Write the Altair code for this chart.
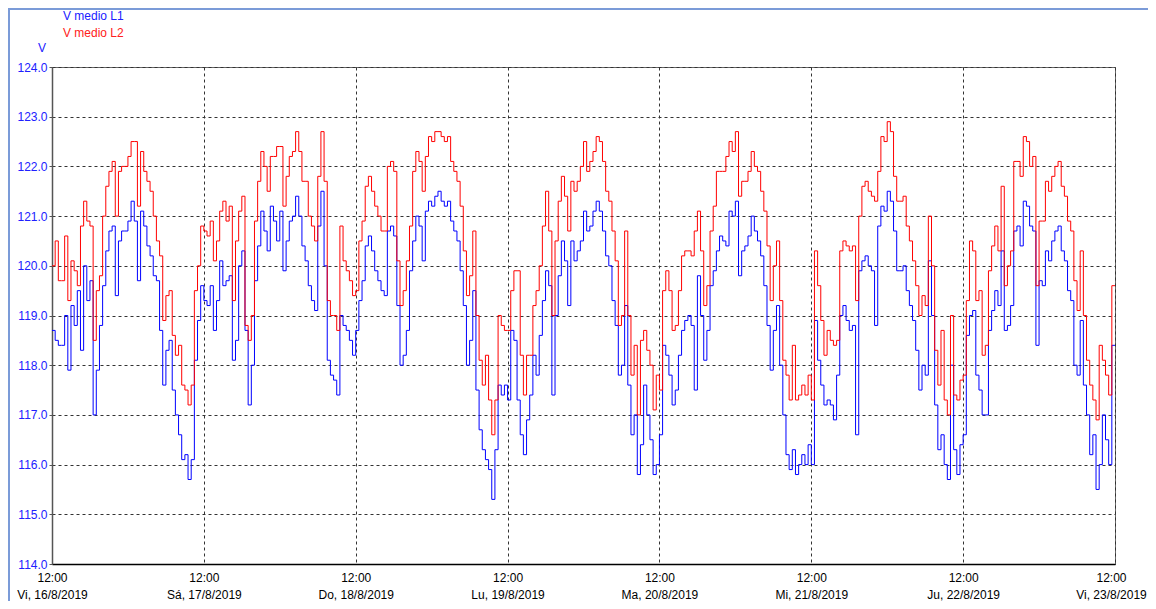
import altair as alt
import pandas as pd

# V medio L1 (blue), half-hourly readings from Fri 16/8/2019 12:00 to Fri 23/8/2019 12:00
L1 = [
    118.7,118.5,118.4,118.4,119.0,117.9,119.2,118.8,119.5,118.3,120.0,119.3,119.7,117.0,117.9,118.8,119.6,120.3,120.7,120.8,
    119.4,120.5,120.7,120.7,120.9,121.3,120.9,119.7,121.1,120.8,120.4,120.2,119.8,119.7,118.7,117.6,118.3,118.5,117.5,117.0,
    116.6,116.1,116.2,115.7,116.1,118.1,118.9,119.6,
    119.3,119.2,119.6,118.7,119.3,120.1,119.6,119.7,119.8,118.1,118.5,120.0,120.3,118.7,117.2,118.0,119.7,120.4,121.1,120.7,
    120.3,121.2,120.9,120.5,121.1,119.9,120.5,120.9,121.0,121.4,121.0,120.4,120.1,119.6,119.3,119.1,120.8,121.5,120.0,118.1,
    117.8,117.7,117.4,119.0,118.8,118.7,118.5,118.2,
    118.7,119.3,119.7,120.4,120.6,120.3,119.9,119.7,119.5,119.4,120.7,120.8,120.6,119.2,118.0,118.2,118.7,119.9,120.5,121.0,
    120.8,120.1,121.1,121.3,121.2,121.4,121.5,121.3,121.2,121.3,120.9,120.7,120.5,119.9,119.2,118.0,118.5,119.5,117.5,116.7,
    116.3,116.1,115.9,115.3,116.3,117.6,117.4,117.6,
    117.3,118.7,118.5,117.3,116.6,116.2,116.9,117.4,118.2,117.8,118.6,119.3,119.9,119.6,117.4,119.0,119.8,120.5,120.1,119.2,
    120.5,120.1,120.3,120.5,121.1,120.7,120.8,121.1,121.3,121.1,120.7,120.2,120.0,119.3,118.8,117.8,118.0,119.2,117.6,116.6,
    117.0,115.8,116.4,117.6,117.0,116.5,115.8,116.0,
    116.6,118.4,118.2,117.8,117.2,117.5,118.2,118.7,118.9,119.0,118.8,117.5,119.8,119.0,118.1,118.7,119.6,119.9,120.3,120.6,
    120.5,120.4,121.1,121.0,121.3,119.8,120.3,120.4,120.6,121.0,120.7,120.5,120.2,119.6,118.8,117.9,118.7,119.2,118.0,117.0,
    116.2,115.9,116.3,115.8,116.0,116.2,116.0,116.4,
    116.0,118.9,118.1,117.6,117.2,117.3,117.2,116.9,117.8,119.0,119.2,118.9,118.7,118.8,116.6,119.9,120.1,120.2,120.0,119.9,
    118.8,120.8,121.2,121.1,121.5,121.3,120.7,119.9,119.9,120.0,119.5,119.2,118.9,118.3,117.5,118.0,117.8,120.1,119.0,117.2,
    116.3,116.6,116.0,115.7,118.0,116.3,115.8,116.4,
    116.6,118.6,119.0,119.1,117.8,117.5,117.0,117.0,118.7,119.1,119.5,119.2,120.3,118.7,118.8,119.2,120.7,120.8,120.4,121.3,
    121.2,120.8,120.7,118.4,119.7,119.6,120.3,120.1,120.5,120.7,120.8,120.3,120.1,119.5,119.3,118.0,117.8,118.9,117.6,117.0,
    116.2,116.6,115.5,116.0,117.0,116.5,116.0,118.4,
    118.4,
]

# V medio L2 (red)
L2 = [
    120.0,120.5,119.7,119.7,120.6,119.3,120.1,119.9,119.6,120.8,121.3,120.9,120.8,118.5,119.5,119.8,121.0,121.6,121.9,122.1,
    121.0,121.9,122.0,122.0,122.2,122.5,122.5,121.2,122.3,121.9,121.7,121.5,121.0,120.5,120.2,118.9,119.4,119.5,118.6,118.2,
    118.4,117.6,117.5,117.2,117.6,119.5,120.0,120.8,
    120.7,120.6,120.9,120.1,120.5,121.1,121.3,120.9,121.2,119.3,120.5,121.1,121.4,118.8,118.5,119.0,120.9,121.7,122.3,122.0,
    121.5,122.2,122.2,122.4,122.4,121.2,121.8,122.2,122.3,122.7,122.3,121.7,121.7,121.0,120.8,120.5,121.8,122.7,121.7,119.3,
    119.0,119.0,118.7,120.8,120.1,119.9,119.7,119.4,
    119.5,120.5,120.9,121.6,121.8,121.5,121.2,121.0,120.7,120.7,122.0,122.1,121.9,120.1,119.2,119.5,120.1,120.8,121.9,122.3,
    122.1,121.5,122.2,122.6,122.5,122.7,122.7,122.6,122.5,122.6,122.1,121.9,121.7,121.2,120.3,119.4,119.8,120.7,119.0,118.1,
    117.6,118.2,117.3,116.6,117.3,119.0,118.8,118.7,
    118.7,119.5,119.9,119.9,118.2,117.4,118.2,118.2,119.2,119.5,120.0,120.8,121.5,120.7,119.0,120.5,121.3,121.8,121.4,120.7,
    121.7,121.5,121.7,122.0,122.5,121.9,122.1,122.3,122.6,122.5,122.1,121.5,121.3,120.7,120.1,118.8,119.0,120.7,119.0,117.8,
    118.4,117.0,118.5,118.7,118.3,118.0,117.1,117.8,
    117.5,119.5,119.9,119.5,118.7,118.8,119.5,120.2,120.3,120.3,120.2,120.7,121.1,120.3,119.2,119.6,120.7,121.2,121.9,121.9,
    121.9,122.2,122.5,122.3,122.7,121.4,121.7,121.7,121.9,122.3,122.0,121.9,121.5,121.1,120.4,119.3,120.0,120.5,119.3,118.1,
    117.8,117.3,118.4,117.3,117.4,117.6,117.4,117.8,
    117.3,120.3,119.6,118.9,118.2,118.7,118.5,118.4,118.5,120.3,120.5,120.4,120.3,120.4,119.3,121.0,121.6,121.7,121.5,121.4,
    121.3,121.9,122.6,122.5,122.9,122.7,121.8,121.3,121.3,121.4,120.8,120.5,120.1,119.6,119.0,119.4,119.2,121.0,120.0,118.3,
    117.6,118.7,117.3,117.0,119.0,117.4,117.3,117.7,
    117.8,119.3,120.5,120.3,119.3,119.5,118.2,118.4,119.9,120.4,120.8,120.3,121.6,119.6,120.0,120.3,122.1,122.1,121.8,122.6,
    122.5,122.0,122.2,119.6,120.9,120.9,121.7,121.5,121.8,122.0,122.1,121.6,121.4,120.9,120.7,119.7,119.1,120.3,119.0,118.1,
    117.6,117.3,116.9,118.4,118.1,117.8,117.4,119.6,
    119.6,
]

SERIES = ["V medio L1", "V medio L2"]
COLORS = ["#0000ff", "#ff0000"]
Y_TICKS = [114, 115, 116, 117, 118, 119, 120, 121, 122, 123, 124]
TICK_DAYS = [16, 17, 18, 19, 20, 21, 22, 23]
DAY_ABBR = ["Do", "Lu", "Ma", "Mi", "Ju", "Vi", "Sá"]

n = len(L1)
times = list(pd.date_range("2019-08-16 12:00", periods=n, freq="30min").strftime("%Y-%m-%dT%H:%M:00Z"))
df = pd.DataFrame({
    "t": times + times,
    "v": L1 + L2,
    "s": [SERIES[0]] * n + [SERIES[1]] * n,
})

FONT = "Liberation Sans"
W, H = 1063, 497

tick_vals = [alt.DateTime(year=2019, month=8, date=d, hours=12, utc=True) for d in TICK_DAYS]
last_ms = int(pd.Timestamp("2019-08-23 12:00", tz="UTC").value // 10**6)
abbr = "[" + ",".join("'%s'" % a for a in DAY_ABBR) + "]"
label_expr = (
    "[utcFormat(datum.value, '%H:%M'), " + abbr + "[utcday(datum.value)] + ', ' + "
    "utcdate(datum.value) + '/' + (utcmonth(datum.value) + 1) + '/' + utcyear(datum.value)]"
)

lines = alt.Chart(df).mark_line(interpolate="step-after", strokeWidth=1, clip=True).encode(
    x=alt.X(
        "t:T",
        scale=alt.Scale(type="utc", domain=[tick_vals[0], tick_vals[-1]], nice=False),
        axis=alt.Axis(
            values=tick_vals, labelExpr=label_expr, title=None, grid=True,
            gridDash=[3, 3], gridColor="#333333", gridWidth=1, ticks=False,
            domain=True, domainColor="#000000", domainWidth=1.5,
            labelColor="#000000", labelFont=FONT, labelFontSize=12,
            labelPadding=8, labelLineHeight=17, labelAlign="center", labelBaseline="top",
            labelOverlap=False, labelFlush=False,
            labelOffset={"condition": {"test": "datum.value >= %d" % last_ms, "value": -4}, "value": 0},
        ),
    ),
    y=alt.Y(
        "v:Q",
        scale=alt.Scale(domain=[114, 124], nice=False, zero=False),
        axis=alt.Axis(
            values=Y_TICKS, format=".1f", title=None, grid=True,
            gridDash=[3, 3], gridColor="#333333", gridWidth=1,
            ticks=True, tickSize=3, tickColor="#555555",
            domain=True, domainColor="#555555", domainWidth=1.5,
            labelColor="#2020ff", labelFont=FONT, labelFontSize=12, labelPadding=2,
        ),
    ),
    color=alt.Color("s:N", scale=alt.Scale(domain=SERIES, range=COLORS), legend=None),
    order=alt.Order("s:N"),
)

one = pd.DataFrame({"a": [0]})
leg1 = alt.Chart(pd.DataFrame({"label": [SERIES[0]]})).mark_text(
    align="left", baseline="middle", color="#2020ff", font=FONT, fontSize=12
).encode(x=alt.value(11), y=alt.value(-51), text="label:N")
leg2 = alt.Chart(pd.DataFrame({"label": [SERIES[1]]})).mark_text(
    align="left", baseline="middle", color="#ff2020", font=FONT, fontSize=12
).encode(x=alt.value(11), y=alt.value(-34), text="label:N")
vlab = alt.Chart(pd.DataFrame({"label": ["V"]})).mark_text(
    align="center", baseline="middle", color="#2020ff", font=FONT, fontSize=12
).encode(x=alt.value(-10), y=alt.value(-19), text="label:N")

frame_top = alt.Chart(one).mark_rule(color="#7b9bd8", strokeWidth=2).encode(
    x=alt.value(-44), x2=alt.value(W + 40), y=alt.value(-58)
)
frame_left = alt.Chart(one).mark_rule(color="#7b9bd8", strokeWidth=2).encode(
    x=alt.value(-43), y=alt.value(-59), y2=alt.value(H + 45)
)

chart = alt.layer(frame_top, frame_left, lines, leg1, leg2, vlab).properties(
    width=W, height=H,
    autosize=alt.AutoSizeParams(type="none"),
    padding={"left": 44, "top": 59, "right": 33, "bottom": 37},
    background="#ffffff",
).configure_view(stroke="#666666", strokeWidth=1)

chart.save("out.html", embed_options={"renderer": "svg", "actions": False})
